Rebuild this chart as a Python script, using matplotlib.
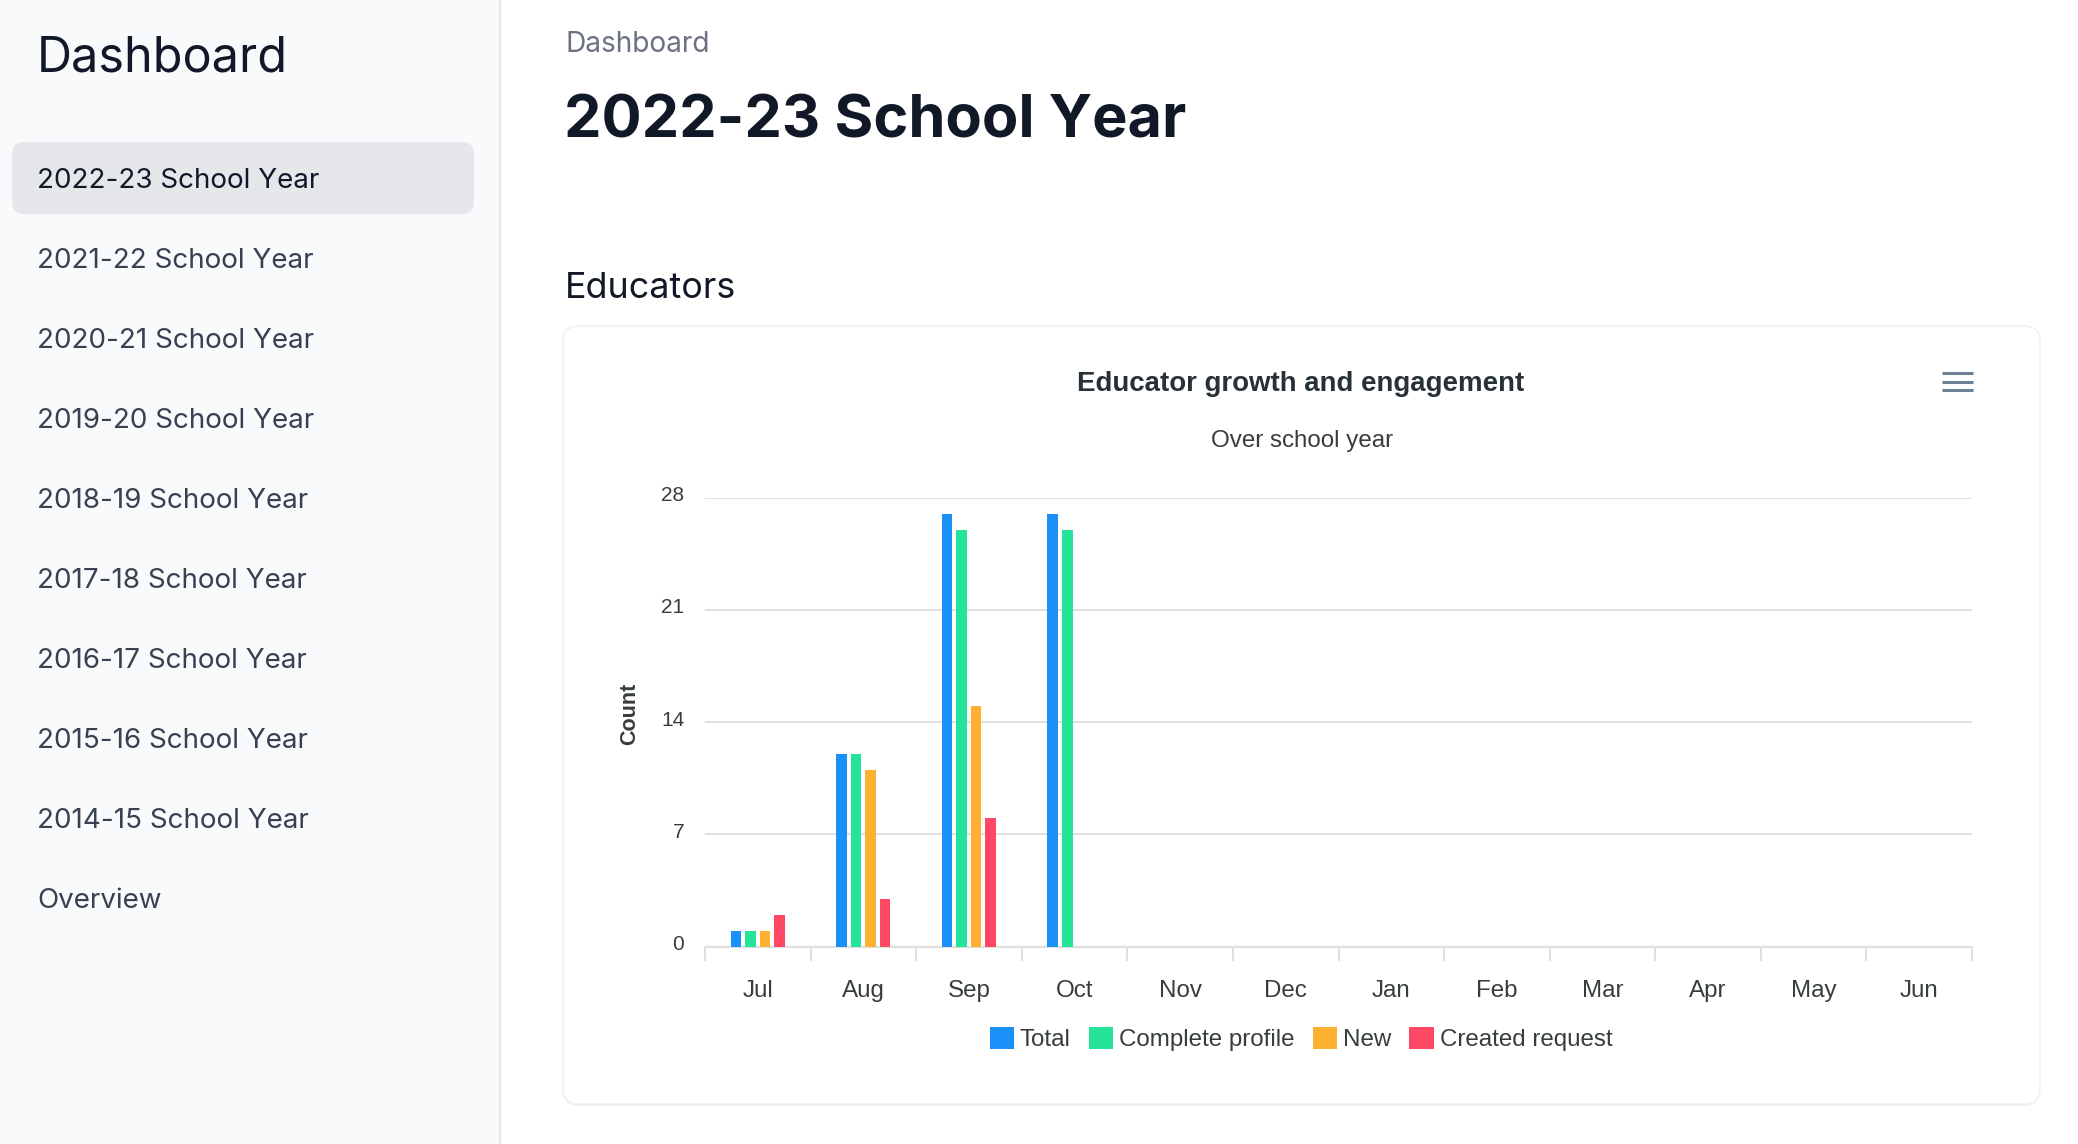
import matplotlib
matplotlib.use('Agg')
import matplotlib.pyplot as plt
import matplotlib.transforms as mtransforms
from matplotlib.patches import FancyBboxPatch, Rectangle
import numpy as np

plt.rcParams['font.family'] = ['Liberation Sans', 'DejaVu Sans']

# page text
nav_items = ['2022-23 School Year', '2021-22 School Year', '2020-21 School Year',
             '2019-20 School Year', '2018-19 School Year', '2017-18 School Year',
             '2016-17 School Year', '2015-16 School Year', '2014-15 School Year',
             'Overview']
selected = '2022-23 School Year'

# chart data
months = ['Jul', 'Aug', 'Sep', 'Oct', 'Nov', 'Dec', 'Jan', 'Feb', 'Mar', 'Apr', 'May', 'Jun']
total = [1, 12, 27, 27, 0, 0, 0, 0, 0, 0, 0, 0]
complete_profile = [1, 12, 26, 26, 0, 0, 0, 0, 0, 0, 0, 0]
new = [1, 11, 15, 0, 0, 0, 0, 0, 0, 0, 0, 0]
created_request = [2, 3, 8, 0, 0, 0, 0, 0, 0, 0, 0, 0]
series_names = ['Total', 'Complete profile', 'New', 'Created request']
series_colors = ['#1a90f9', '#26e39a', '#feb032', '#ff4865']
y_ticks = [0, 7, 14, 21, 28]

W, H = 2078, 1144
fig = plt.figure(figsize=(W / 100, H / 100), dpi=100, facecolor='white')

# page background axes in pixel units
bg = fig.add_axes([0, 0, 1, 1])
bg.set_xlim(0, W)
bg.set_ylim(H, 0)
bg.axis('off')

# sidebar
bg.add_patch(Rectangle((0, 0), 499, H, facecolor='#f9fafb', edgecolor='none'))
bg.plot([499.5, 499.5], [0, H], color='#e5e7eb', lw=1.5)
bg.text(37, 72, 'Dashboard', family='Inter', fontsize=35, color='#111827', va='baseline')
bg.add_patch(FancyBboxPatch((12, 142), 462, 72, boxstyle='round,pad=0,rounding_size=12',
                            facecolor='#e5e7eb', edgecolor='none'))
for i, item in enumerate(nav_items):
    col = '#111827' if item == selected else '#374151'
    bg.text(37, 188 + 80 * i, item, family='Inter', fontsize=20, color=col, va='baseline')

# header
bg.text(565, 52, 'Dashboard', family='Inter', fontsize=20.2, color='#6b7280', va='baseline')
bg.text(564, 137, '2022-23 School Year', family='Inter', fontsize=42.8, fontweight='bold',
        color='#111827', va='baseline')
bg.text(565, 298, 'Educators', family='Inter', fontsize=25.8, color='#111827', va='baseline')

# card
bg.add_patch(FancyBboxPatch((563, 328), 1477, 778, boxstyle='round,pad=0,rounding_size=16',
                            facecolor='#000000', alpha=0.05, edgecolor='none'))
bg.add_patch(FancyBboxPatch((563, 326), 1477, 778, boxstyle='round,pad=0,rounding_size=16',
                            facecolor='white', edgecolor='#f0f0f0', lw=1))

bg.text(1301, 391, 'Educator growth and engagement', fontsize=19.9, fontweight='bold',
        color='#263238', ha='center', va='baseline')
bg.text(1302, 447, 'Over school year', fontsize=17.4, color='#373d3f', ha='center', va='baseline')
for yy in [373, 381.5, 390]:
    bg.plot([1942, 1973], [yy, yy], color='#6e8192', lw=2.2, solid_capstyle='butt')
bg.text(630, 714, 'Count', rotation=90, fontsize=15.5, fontweight='bold', color='#373d3f',
        ha='center', va='center')

# chart
ax = fig.add_axes([705 / W, 1 - 946.7 / H, (1972 - 705) / W, (946.7 - 497.7) / H])
ax.patch.set_alpha(0)
x = np.arange(len(months))
data = [total, complete_profile, new, created_request]
for i, vals in enumerate(data):
    ax.bar(x + (i - 1.5) * 0.1375, vals, width=0.1, color=series_colors[i],
           label=series_names[i], zorder=3)

ax.set_xlim(-0.5, 11.5)
ax.set_ylim(0, 28)
ax.set_yticks(y_ticks)
ax.grid(axis='y', color='#e0e0e0', lw=1.4)
ax.set_axisbelow(True)
for s in ['left', 'right', 'top']:
    ax.spines[s].set_visible(False)
ax.spines['bottom'].set_color('#e0e0e0')
ax.spines['bottom'].set_linewidth(1.6)
ax.tick_params(axis='y', length=0, pad=15, labelsize=15, labelcolor='#373d3f')
shift_up = mtransforms.ScaledTranslation(0, 4 / 100, fig.dpi_scale_trans)
for lab in ax.get_yticklabels():
    lab.set_transform(lab.get_transform() + shift_up)
ax.set_xticks(x)
ax.set_xticklabels(months)
ax.tick_params(axis='x', which='major', length=0, pad=24, labelsize=17.4, labelcolor='#373d3f')
ax.set_xticks(np.arange(-0.5, 12, 1), minor=True)
ax.tick_params(axis='x', which='minor', length=10, width=1.4, color='#e0e0e0', direction='out')

handles, labels = ax.get_legend_handles_labels()
fig.legend(handles, labels, loc='center', bbox_to_anchor=(1301 / W, 1 - 1039 / H), ncol=4,
           frameon=False, fontsize=17.4, handlelength=1.0, handleheight=1.0,
           handletextpad=0.25, columnspacing=0.75, labelcolor='#373d3f')

plt.savefig('out.png', dpi=100, facecolor='white')
